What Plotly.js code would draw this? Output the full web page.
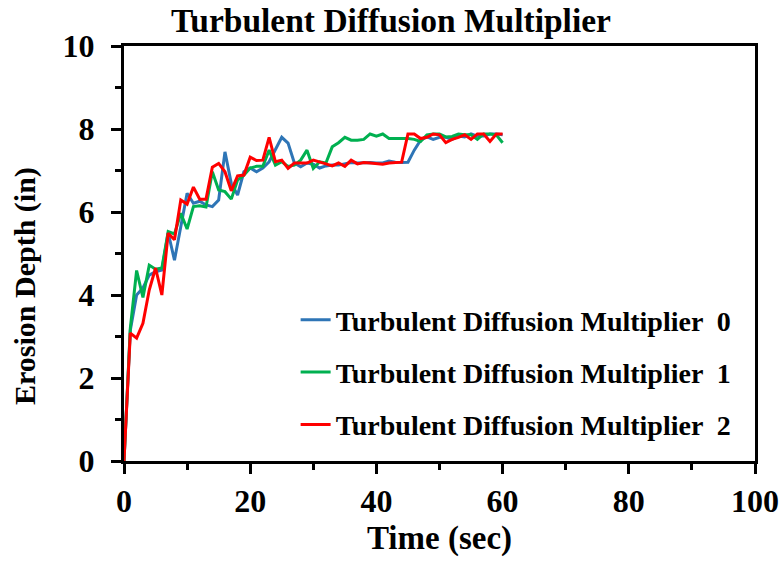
<!DOCTYPE html>
<html>
<head>
<meta charset="utf-8">
<script src="https://cdn.plot.ly/plotly-3.0.1.min.js"></script>
<style>html,body{margin:0;padding:0;background:#fff;}#chart{width:782px;height:563px;}</style>
</head>
<body>
<div id="chart"></div>
<script>
const timeSec = [0,1,2,3,4,5,6,7,8,9,10,11,12,13,14,15,16,17,18,19,20,21,22,23,24,25,26,27,28,29,30,31,32,33,34,35,36,37,38,39,40,41,42,43,44,45,46,47,48,49,50,51,52,53,54,55,56,57,58,59,60];
const mult0 = [0,3.15,4.0,4.17,4.48,4.56,4.6,5.5,4.84,5.65,6.45,6.21,6.26,6.17,6.13,6.29,7.45,6.69,6.41,6.97,7.06,6.97,7.06,7.21,7.49,7.8,7.66,7.18,7.09,7.18,7.15,7.06,7.11,7.13,7.13,7.16,7.19,7.18,7.19,7.19,7.18,7.18,7.23,7.2,7.19,7.2,7.49,7.73,7.81,7.75,7.8,7.8,7.75,7.83,7.81,7.88,7.83,7.83,7.88,7.88,7.86];
const mult1 = [0,3.2,4.59,3.94,4.72,4.62,4.65,5.53,5.47,5.97,5.59,6.13,6.15,6.12,6.97,6.53,6.49,6.31,6.77,6.89,7.06,7.1,7.1,7.49,7.13,7.21,7.1,7.13,7.25,7.49,7.05,7.21,7.18,7.57,7.67,7.8,7.73,7.73,7.75,7.88,7.83,7.88,7.77,7.77,7.77,7.77,7.75,7.7,7.86,7.88,7.88,7.81,7.82,7.88,7.86,7.86,7.75,7.88,7.88,7.86,7.67];
const mult2 = [0,3.08,2.96,3.32,4.12,4.65,4.0,5.49,5.33,6.29,6.19,6.6,6.31,6.31,7.08,7.17,6.97,6.51,6.87,6.89,7.32,7.24,7.25,7.8,7.21,7.25,7.05,7.18,7.18,7.18,7.25,7.21,7.16,7.11,7.18,7.1,7.25,7.16,7.19,7.18,7.16,7.15,7.18,7.19,7.2,7.88,7.88,7.77,7.8,7.88,7.86,7.67,7.75,7.8,7.86,7.75,7.88,7.88,7.7,7.88,7.88];
const seriesNames = ['Turbulent Diffusion Multiplier  0','Turbulent Diffusion Multiplier  1','Turbulent Diffusion Multiplier  2'];
const seriesColors = ['#2E75B6','#00B050','#FF0000'];
const xTickVals = [0,20,40,60,80,100];
const yTickVals = [0,2,4,6,8,10];

const FONT = 'Liberation Serif, Times New Roman, serif';
const seriesData = [mult0, mult1, mult2];
const traces = seriesData.map((ys, i) => ({
  x: timeSec, y: ys, type: 'scatter', mode: 'lines',
  name: seriesNames[i], legendgroup: 'g' + i,
  line: {color: seriesColors[i], width: 3},
  cliponaxis: false
}));

const layout = {
  width: 782, height: 563,
  margin: {l: 124, r: 27, t: 46, b: 102},
  paper_bgcolor: '#fff', plot_bgcolor: '#fff',
  font: {family: FONT, color: '#000'},
  title: {text: '<b>Turbulent Diffusion Multiplier</b>', font: {family: FONT, size: 33.5, color: '#000'},
    x: 0.5, xref: 'container', xanchor: 'center', y: 1 - 20/563, yref: 'container', yanchor: 'middle'},
  showlegend: true,
  legend: {x: 0.272, y: 0.40, xanchor: 'left', yanchor: 'top', bgcolor: 'rgba(0,0,0,0)',
    font: {family: FONT, size: 28, color: '#000', weight: 'bold'}, traceorder: 'grouped', tracegroupgap: 13, itemwidth: 30},
  xaxis: {
    range: [0, 100], tickvals: xTickVals, ticktext: xTickVals.map(String),
    showgrid: false, zeroline: false, showline: true, linecolor: '#000', linewidth: 3, mirror: true,
    ticks: 'outside', ticklen: 10, tickwidth: 3, tickcolor: '#000', ticklabelstandoff: 0,
    tickfont: {family: FONT, size: 32, color: '#000', weight: 'bold'},
    minor: {dtick: 10, tick0: 0, ticks: 'outside', ticklen: 6, tickwidth: 3, tickcolor: '#000', showgrid: false},
    title: {text: '<b>Time (sec)</b>', font: {family: FONT, size: 33, color: '#000'}, standoff: 8}
  },
  yaxis: {
    range: [0, 10], tickvals: yTickVals, ticktext: yTickVals.map(String),
    showgrid: false, zeroline: false, showline: true, linecolor: '#000', linewidth: 3, mirror: true,
    ticks: 'outside', ticklen: 10, tickwidth: 3, tickcolor: '#000', ticklabelstandoff: 10,
    tickfont: {family: FONT, size: 32, color: '#000', weight: 'bold'},
    minor: {dtick: 1, tick0: 0, ticks: 'outside', ticklen: 6, tickwidth: 3, tickcolor: '#000', showgrid: false}
  },
  annotations: [{
    text: '<b>Erosion Depth (in)</b>', textangle: -90, showarrow: false,
    xref: 'paper', yref: 'paper', x: (25 - 124) / 631, y: (461 - 286) / 415,
    xanchor: 'center', yanchor: 'middle',
    font: {family: FONT, size: 30, color: '#000'}
  }]
};

Plotly.newPlot('chart', traces, layout, {staticPlot: true, displayModeBar: false});
</script>
</body>
</html>
